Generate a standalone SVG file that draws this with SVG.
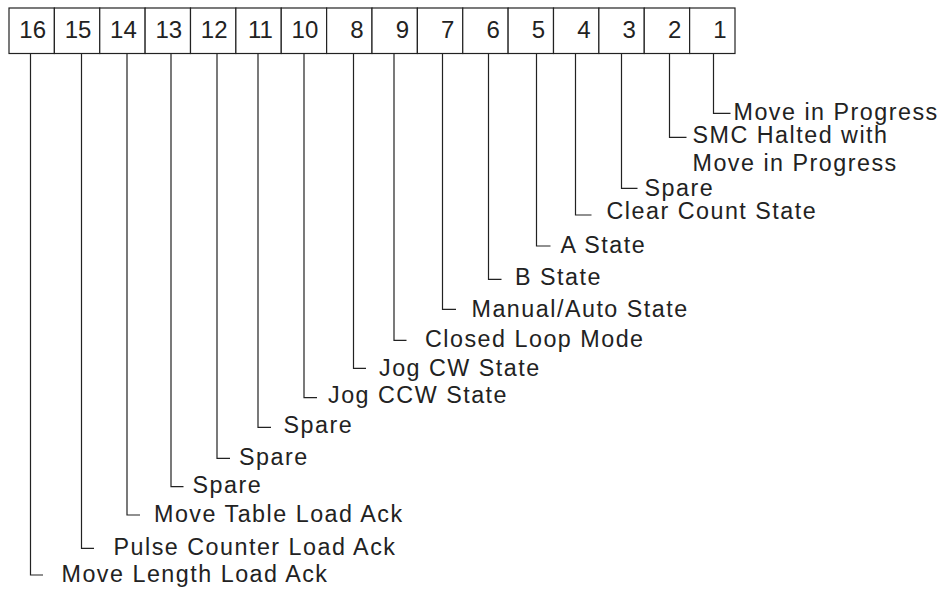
<svg xmlns="http://www.w3.org/2000/svg" width="944" height="591" viewBox="0 0 944 591">
<style>
.box{fill:#fff;stroke:#222;stroke-width:1.2}
.num{font-family:"Liberation Sans",Arial,sans-serif;font-size:24px;fill:#222;text-anchor:end}
.lbl{font-family:"Liberation Sans",Arial,sans-serif;font-size:23.3px;fill:#222;letter-spacing:1.5px}
.con{fill:none;stroke:#222;stroke-width:1.2}
</style>
<rect width="944" height="591" fill="#fff"/>
<g id="register">
<rect class="box" x="9" y="8" width="45.375" height="45.5"/>
<rect class="box" x="54.375" y="8" width="45.375" height="45.5"/>
<rect class="box" x="99.75" y="8" width="45.375" height="45.5"/>
<rect class="box" x="145.125" y="8" width="45.375" height="45.5"/>
<rect class="box" x="190.5" y="8" width="45.375" height="45.5"/>
<rect class="box" x="235.875" y="8" width="45.375" height="45.5"/>
<rect class="box" x="281.25" y="8" width="45.375" height="45.5"/>
<rect class="box" x="326.625" y="8" width="45.375" height="45.5"/>
<rect class="box" x="372" y="8" width="45.375" height="45.5"/>
<rect class="box" x="417.375" y="8" width="45.375" height="45.5"/>
<rect class="box" x="462.75" y="8" width="45.375" height="45.5"/>
<rect class="box" x="508.125" y="8" width="45.375" height="45.5"/>
<rect class="box" x="553.5" y="8" width="45.375" height="45.5"/>
<rect class="box" x="598.875" y="8" width="45.375" height="45.5"/>
<rect class="box" x="644.25" y="8" width="45.375" height="45.5"/>
<rect class="box" x="689.625" y="8" width="45.375" height="45.5"/>
<text class="num" x="46" y="37.7">16</text>
<text class="num" x="91.4" y="37.7">15</text>
<text class="num" x="136.8" y="37.7">14</text>
<text class="num" x="182.1" y="37.7">13</text>
<text class="num" x="227.5" y="37.7">12</text>
<text class="num" x="272.9" y="37.7">11</text>
<text class="num" x="318.3" y="37.7">10</text>
<text class="num" x="363.6" y="37.7">8</text>
<text class="num" x="409" y="37.7">9</text>
<text class="num" x="454.4" y="37.7">7</text>
<text class="num" x="499.8" y="37.7">6</text>
<text class="num" x="545.1" y="37.7">5</text>
<text class="num" x="590.5" y="37.7">4</text>
<text class="num" x="635.9" y="37.7">3</text>
<text class="num" x="681.3" y="37.7">2</text>
<text class="num" x="726.6" y="37.7">1</text>
</g>
<g id="connectors">
<path class="con" d="M713.5 53.5V113.3H730.5"/>
<path class="con" d="M669.5 53.5V137.3H686.5"/>
<path class="con" d="M621.5 53.5V188.3H637.5"/>
<path class="con" d="M575.5 53.5V215H591.5"/>
<path class="con" d="M536.5 53.5V246H550.5"/>
<path class="con" d="M488.5 53.5V279.3H501.5"/>
<path class="con" d="M442.5 53.5V309.3H456"/>
<path class="con" d="M394 53.5V340.3H406.5"/>
<path class="con" d="M353.5 53.5V368.3H366"/>
<path class="con" d="M304 53.5V397.7H317"/>
<path class="con" d="M258 53.5V427.3H271"/>
<path class="con" d="M217 53.5V458.3H230"/>
<path class="con" d="M171 53.5V486.7H183.5"/>
<path class="con" d="M127 53.5V515H140"/>
<path class="con" d="M81.5 53.5V548.3H94"/>
<path class="con" d="M30.5 53.5V575H43"/>
</g>
<g id="bit1"><text class="lbl" x="733.5" y="120">Move in Progress</text></g>
<g id="bit2"><text class="lbl" x="692.5" y="142.5">SMC Halted with</text><text class="lbl" x="692.5" y="171">Move in Progress</text></g>
<g id="bit3"><text class="lbl" x="644.5" y="195.7">Spare</text></g>
<g id="bit4"><text class="lbl" x="606.5" y="219">Clear Count State</text></g>
<g id="bit5"><text class="lbl" x="560.5" y="252.7">A State</text></g>
<g id="bit6"><text class="lbl" x="515" y="285">B State</text></g>
<g id="bit7"><text class="lbl" x="471.5" y="316.7">Manual/Auto State</text></g>
<g id="bit9"><text class="lbl" x="425" y="347.3">Closed Loop Mode</text></g>
<g id="bit8"><text class="lbl" x="379" y="376">Jog CW State</text></g>
<g id="bit10"><text class="lbl" x="328" y="403.3">Jog CCW State</text></g>
<g id="bit11"><text class="lbl" x="283.5" y="433.3">Spare</text></g>
<g id="bit12"><text class="lbl" x="239" y="465">Spare</text></g>
<g id="bit13"><text class="lbl" x="192.5" y="493.3">Spare</text></g>
<g id="bit14"><text class="lbl" x="154" y="522">Move Table Load Ack</text></g>
<g id="bit15"><text class="lbl" x="113.5" y="555">Pulse Counter Load Ack</text></g>
<g id="bit16"><text class="lbl" x="61.5" y="581.7">Move Length Load Ack</text></g>
</svg>
